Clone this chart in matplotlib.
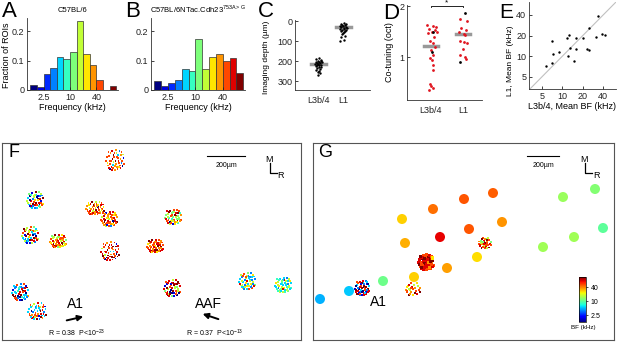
import matplotlib
matplotlib.use('Agg')
import matplotlib.pyplot as plt
import numpy as np
from matplotlib.colors import LogNorm
from matplotlib.cm import ScalarMappable
from matplotlib.ticker import NullLocator

plt.rcParams['font.family'] = ['Liberation Sans', 'DejaVu Sans']
plt.rcParams['mathtext.fontset'] = 'custom'
plt.rcParams['mathtext.rm'] = 'Liberation Sans'

W, H = 617, 342

# ---- data ----
# histogram bins (kHz), half-octave
bin_edges = [1.25 * 2 ** (k / 2) for k in range(14)]
frac_A = [0.016, 0.009, 0.053, 0.074, 0.111, 0.106, 0.128, 0.235, 0.123, 0.085, 0.034, 0.0, 0.014]
frac_B = [0.031, 0.014, 0.025, 0.034, 0.072, 0.066, 0.172, 0.070, 0.113, 0.122, 0.100, 0.110, 0.059]
freq_ticks = [2.5, 10, 40]

# imaging depth (um)
depth_L34 = [185, 190, 194, 198, 200, 203, 205, 207, 210, 212, 214, 216, 218, 220, 222, 225, 228, 232, 236, 240, 245, 250, 256, 262, 268]
jit_L34 = [0.05, -0.08, 0.1, -0.02, 0.12, -0.1, 0.03, 0.15, -0.05, 0.08, -0.14, 0.0, 0.1, -0.06, 0.05, -0.1, 0.12, 0.02, -0.04, 0.08, -0.1, 0.04, -0.02, 0.06, 0.0]
depth_L1 = [10, 12, 15, 18, 20, 22, 25, 27, 30, 32, 35, 38, 40, 42, 45, 48, 50, 55, 60, 65, 72, 80, 92, 100]
jit_L1 = [0.04, -0.1, 0.12, -0.05, 0.08, -0.14, 0.0, 0.1, -0.08, 0.14, 0.05, -0.12, 0.02, 0.1, -0.04, 0.08, -0.1, 0.05, 0.0, -0.06, 0.08, -0.08, 0.04, -0.12]
mean_depth = [215, 30]

# co-tuning (oct)
cot_L34 = [1.63, 1.60, 1.58, 1.55, 1.52, 1.50, 1.50, 1.47, 1.40, 1.32, 1.27, 1.20, 1.14, 1.04, 0.98, 0.94, 0.84, 0.75, 0.48, 0.43, 0.39, 0.35]
jit_cot34 = [-0.12, 0.05, 0.15, -0.05, 0.12, 0.02, 0.2, -0.08, 0.1, -0.02, 0.05, 0.12, 0.0, 0.06, -0.04, 0.03, 0.05, 0.08, -0.02, 0.0, 0.06, -0.05]
cot_L34_black = [1.50, 1.10]
jit_black34 = [0.08, 0.02]
cot_L1 = [1.74, 1.71, 1.56, 1.52, 1.50, 1.46, 1.43, 1.32, 1.30, 1.28, 1.15, 1.04, 1.01, 0.96]
jit_cot1 = [-0.1, 0.12, -0.05, 0.1, -0.12, 0.04, 0.08, -0.08, 0.05, 0.12, 0.0, -0.1, 0.06, 0.1]
cot_L1_black = [1.87, 0.91]
jit_black1 = [0.08, -0.1]
mean_cot = [1.21, 1.45]

# mean BF L3b/4 vs L1 (kHz)
bf_L34 = [5.7, 7.0, 7.3, 6.9, 8.8, 11.9, 11.5, 12.6, 12.9, 14.6, 15.7, 16.1, 20.4, 22.9, 24.8, 24.8, 34.0, 31.8, 38.0, 42.5]
bf_L1 = [7.1, 7.9, 10.8, 16.9, 11.3, 9.9, 18.2, 20.4, 13.2, 8.6, 18.7, 12.8, 18.7, 12.8, 12.1, 25.6, 38.7, 19.3, 21.1, 20.4]

# ROI cluster layout template (unit disc offsets)
tmpl = [(-0.9, 0.1), (-0.7, 0.5), (-0.6, -0.4), (-0.5, 0.8), (-0.4, 0.1), (-0.3, -0.8), (-0.2, 0.45), (-0.1, -0.3),
        (0.0, 0.9), (0.05, 0.05), (0.15, -0.6), (0.2, 0.6), (0.3, -0.15), (0.4, 0.3), (0.45, -0.85), (0.55, 0.75),
        (0.6, -0.45), (0.7, 0.1), (0.85, -0.2), (0.9, 0.4), (-0.8, -0.25), (-0.75, 0.3), (-0.55, 0.05), (-0.45, -0.6),
        (-0.35, 0.65), (-0.25, -0.1), (-0.15, 0.2), (-0.05, -0.6), (0.1, 0.35), (0.25, 0.85), (0.3, -0.45), (0.35, 0.05),
        (0.5, 0.5), (0.55, -0.1), (0.65, -0.7), (0.75, 0.55), (0.8, -0.5), (-0.65, -0.7), (-0.3, 0.9), (0.1, -0.9),
        (-0.15, -0.45), (0.2, -0.3), (0.4, 0.65), (-0.5, 0.4), (0.0, 0.55), (-0.6, 0.7), (0.65, 0.3), (-0.2, 0.7)]

# F clusters: centre x, centre y, radius x, radius y, BF level per ROI (0..c on jet)
F_clusters = [
    (115, 160, 10, 11, "a9a0ab4a9c79aa3b9a1aa8a9bc7a9a4ba9a07ab9ca8a9b3a"),
    (35, 200, 9, 9, "7405b1c7384a0b6731c84705b3a7c4180b7a364c7058b1a3"),
    (95, 208, 10, 7, "9a8b9c7a98ab0a79ba8c9a7b89a9ca8b79a9b8a7c9ab9a8b"),
    (109, 219, 9, 8, "a9b8c1a9a7b9a0ba8a9c7ab9a8b9a3a9cb8a9a7b9a8ca9b1"),
    (173, 217, 9, 8, "6a7b5c8a1679b6a5c79a6b7c0a56a8b7c6a95b7a6c8a7b6a"),
    (30, 235, 9, 9, "74b3c7481a7b4c6370b7a4173c8b47a0634b7c1a74b3c7a4"),
    (58, 241, 9, 7, "9a7b8c9a6b7a9c87ab69a8b7c9a6b8a7c9b8a69b7a8c9a7b"),
    (110, 251, 10, 10, "bca0b9cab4bc9ab1cbac7bab0cab9bc4ab1cbab9cac7ba0b"),
    (155, 246, 9, 7, "ab9bac9ab8acb9ab9cab8a9bcab9a8bcab9bac8bab9acb9a"),
    (20, 292, 9, 9, "4c3b4a041b35c4a3b0491c43a5b4c03a4b13c4a35b4c0a43"),
    (37, 311, 10, 9, "4a4b37a4c4a14b49a34c4a07b4a4937c4ba41a4b34c9a4b7"),
    (172, 288, 9, 9, "ba1c7b0a6bc17ab0c7ba16cb7a0bc1b7a6c0bab71cab0b7c"),
    (247, 281, 9, 9, "47384a374b37483a47364b7a43874a37438b4736a4378437"),
    (283, 285, 9, 8, "4574846574b475364745847564748574637485746473b574"),
]

G_clusters = [
    (362, 288, 8, 8, "1b4c0b3a1c4b0a3b1c4b0c3a1b4c0b3a1c4b0a3b1c4b0c3a"),
    (426, 262, 8, 8, "bacb9acbabc8acbab9cabcab7bcabac9bcab8cbacb9abcab"),
    (413, 289, 8, 7, "9a8c7a9b8a7c9a8b7a9c8a7b9a"),
    (485, 243, 7, 6, "ab6c9a7bac6b9a7cab6a9b7ca6b9a7ca"),
]
G_dot_size = [2, 5, 2, 2]

# G: mapped BF sites (x, y, BF kHz)
site_x = [320, 349, 383, 414, 447, 477, 405, 440, 469, 502, 402, 433, 464, 493, 543, 574, 603, 563, 595]
site_y = [299, 291, 281, 277, 268, 257, 243, 237, 229, 222, 219, 209, 199, 193, 247, 237, 228, 197, 189]
site_bf = [4.8, 5.3, 10.9, 28, 35, 26, 33, 75, 50, 37, 28, 44, 50, 48, 14.5, 14.5, 10, 14, 12.5]

LEVELS = "0123456789abc"
jet = plt.get_cmap('jet')
norm = LogNorm(1.25, 1.25 * 2 ** 6.5)

fig = plt.figure(figsize=(W / 100, H / 100), dpi=100)


def px_axes(l, t, r, b):
    return fig.add_axes([l / W, 1 - b / H, (r - l) / W, (b - t) / H])


def ftext(x, y, s, **kw):
    fig.text(x / W, 1 - y / H, s, **kw)


def style(ax):
    for s in ['top', 'right']:
        ax.spines[s].set_visible(False)
    for s in ['left', 'bottom']:
        ax.spines[s].set_linewidth(0.6)
        ax.spines[s].set_color('#333333')
    ax.tick_params(direction='in', length=2, width=0.6, labelsize=6.5, pad=2, colors='#222222')


# ---- A & B histograms ----
bar_cols = jet(np.linspace(0, 1, 13))
for (l, r), frac, title, letter, lx in [((27, 118), frac_A, 'C57BL/6', 'A', 2),
                                         ((151, 245), frac_B, r'C57BL/6NTac.Cdh23$^{\mathrm{753A>G}}$', 'B', 125)]:
    ax = px_axes(l, 18, r, 90)
    style(ax)
    ax.bar(bin_edges[:-1], frac, width=np.diff(bin_edges), align='edge', color=bar_cols,
           edgecolor='#333333', linewidth=0.5)
    ax.set_xscale('log')
    ax.set_xlim(1.05, 124)
    ax.set_ylim(0, 0.245)
    ax.set_xticks(freq_ticks)
    ax.set_xticklabels(['2.5', '10', '40'])
    ax.xaxis.set_minor_locator(NullLocator())
    ax.set_yticks([0, 0.1, 0.2])
    ax.set_yticklabels(['0', '0.1', '0.2'])
    ax.set_xlabel('Frequency (kHz)', fontsize=6.5, labelpad=1)
    ax.set_title(title, fontsize=5.5, pad=4)
    ftext(lx, 1, letter, fontsize=16, va='top')
ftext(7, 55, 'Fraction of ROIs', fontsize=6.5, rotation=90, ha='center', va='center')

# ---- C imaging depth ----
ax = px_axes(295, 20, 370, 90)
style(ax)
ax.scatter(1 + np.array(jit_L34), depth_L34, s=3, color='k', linewidths=0, zorder=3)
ax.scatter(2 + np.array(jit_L1), depth_L1, s=3, color='k', linewidths=0, zorder=3)
ax.plot([0.7, 1.3], [mean_depth[0]] * 2, color='#999999', lw=2.5, zorder=2)
ax.plot([1.7, 2.3], [mean_depth[1]] * 2, color='#999999', lw=2.5, zorder=2)
ax.set_xlim(0.08, 3.08)
ax.set_ylim(345, -6)
ax.set_yticks([0, 100, 200, 300])
ax.set_xticks([1, 2])
ax.set_xticklabels(['L3b/4', 'L1'])
ax.tick_params(axis='x', length=0, pad=4)
ax.set_ylabel('Imaging depth (µm)', fontsize=6)
ax.yaxis.set_label_coords(-0.34, 0.46)
ftext(258, 1, 'C', fontsize=16, va='top')

# ---- D co-tuning ----
ax = px_axes(407, 5, 482, 100)
style(ax)
ax.scatter(1 + np.array(jit_cot34), cot_L34, s=4, color='#e0141e', linewidths=0, zorder=3)
ax.scatter(1 + np.array(jit_black34), cot_L34_black, s=4, color='k', linewidths=0, zorder=3)
ax.scatter(2 + np.array(jit_cot1), cot_L1, s=4, color='#e0141e', linewidths=0, zorder=3)
ax.scatter(2 + np.array(jit_black1), cot_L1_black, s=4, color='k', linewidths=0, zorder=3)
ax.plot([0.78, 1.22], [mean_cot[0]] * 2, color='#999999', lw=2.5, zorder=2)
ax.plot([1.78, 2.22], [mean_cot[1]] * 2, color='#999999', lw=2.5, zorder=2)
ax.plot([1, 1, 2, 2], [1.975, 2.0, 2.0, 1.975], color='k', lw=0.6, clip_on=False)
ax.text(1.5, 2.0, '*', ha='center', va='bottom', fontsize=6)
ax.set_xlim(0.25, 2.6)
ax.set_ylim(0.157, 2.02)
ax.set_yticks([1, 2])
ax.set_xticks([1, 2])
ax.set_xticklabels(['L3b/4', 'L1'])
ax.tick_params(axis='x', length=0, pad=4)
ax.set_ylabel('Co-tuning (oct)', fontsize=6.5, labelpad=4)
ftext(383, 3, 'D', fontsize=16, va='top')

# ---- E mean BF ----
ax = px_axes(529, 2, 616, 89)
style(ax)
ax.plot([3.2, 62], [3.2, 62], color='#c0c0c0', lw=0.8)
ax.scatter(bf_L34, bf_L1, s=3, color='k', linewidths=0, zorder=3)
ax.set_xscale('log')
ax.set_yscale('log')
ax.set_xlim(3.2, 62)
ax.set_ylim(3.3, 62)
for axis in [ax.xaxis, ax.yaxis]:
    axis.set_minor_locator(NullLocator())
ax.set_xticks([5, 10, 20, 40])
ax.set_xticklabels(['5', '10', '20', '40'])
ax.set_yticks([5, 10, 20, 40])
ax.set_yticklabels(['5', '10', '20', '40'])
ax.set_xlabel('L3b/4, Mean BF (kHz)', fontsize=6.5, labelpad=1)
ax.set_ylabel('L1, Mean BF (kHz)', fontsize=6)
ax.yaxis.set_label_coords(-0.17, 0.32)
ftext(499, 3, 'E', fontsize=15, va='top')


# ---- F & G maps ----
def map_axes(l, t, r, b):
    ax = px_axes(l, t, r, b)
    ax.set_xlim(l, r)
    ax.set_ylim(b, t)
    ax.set_xticks([])
    ax.set_yticks([])
    for s in ax.spines.values():
        s.set_color('#555555')
        s.set_linewidth(0.8)
    return ax


def draw_clusters(ax, clusters, sizes):
    for (cx, cy, rx, ry, codes), sz in zip(clusters, sizes):
        pts = tmpl[:len(codes)]
        xs = [cx + dx * rx for dx, dy in pts]
        ys = [cy + dy * ry for dx, dy in pts]
        cols = [jet(LEVELS.index(c) / 12) for c in codes[:len(pts)]]
        ax.scatter(xs, ys, s=sz, c=cols, marker='s', linewidths=0, zorder=3)


def compass(ax, x0, x1, ybar, mx):
    ax.plot([x0, x1], [ybar, ybar], color='k', lw=0.8)
    ax.text((x0 + x1) / 2, ybar + 9, '200µm', fontsize=5, ha='center', va='center')
    ax.text(mx, 159, 'M', fontsize=6.5, ha='center', va='center')
    ax.plot([mx + 1, mx + 1, mx + 8], [163, 173, 173], color='k', lw=0.9)
    ax.text(mx + 12, 175, 'R', fontsize=6.5, ha='center', va='center')


axF = map_axes(2, 143, 301, 340)
draw_clusters(axF, F_clusters, [2] * len(F_clusters))
compass(axF, 207, 245, 156, 269)
axF.text(8, 152, 'F', fontsize=13, va='center')
axF.text(75, 304, 'A1', fontsize=10, ha='center', va='center')
axF.text(208, 304, 'AAF', fontsize=10, ha='center', va='center')
axF.annotate('', xy=(86, 316), xytext=(64, 321),
             arrowprops=dict(arrowstyle='-|>', color='k', lw=1.4, mutation_scale=8))
axF.annotate('', xy=(200, 313), xytext=(221, 320),
             arrowprops=dict(arrowstyle='-|>', color='k', lw=1.4, mutation_scale=8))
axF.text(77, 333, r'R = 0.38  P<10$^{-23}$', fontsize=5, ha='center', va='center')
axF.text(215, 333, r'R = 0.37  P<10$^{-13}$', fontsize=5, ha='center', va='center')

axG = map_axes(313, 143, 614, 340)
axG.scatter(site_x, site_y, s=52, c=site_bf, cmap=jet, norm=norm, linewidths=0, zorder=2)
draw_clusters(axG, G_clusters, G_dot_size)
compass(axG, 527, 559, 156, 584)
axG.text(318, 152, 'G', fontsize=13, va='center')
axG.text(378, 302, 'A1', fontsize=10, ha='center', va='center')

cax = px_axes(579, 277, 586, 322)
sm = ScalarMappable(norm=norm, cmap=jet)
cb = fig.colorbar(sm, cax=cax, ticks=freq_ticks)
cb.ax.yaxis.set_minor_locator(NullLocator())
cb.ax.set_yticklabels(['2.5', '10', '40'])
cb.ax.tick_params(labelsize=5, length=1.5, width=0.5, pad=2)
cb.outline.set_linewidth(0.5)
ftext(583, 328, 'BF (kHz)', fontsize=4.5, ha='center', va='center')

fig.savefig('out.png', dpi=100)
